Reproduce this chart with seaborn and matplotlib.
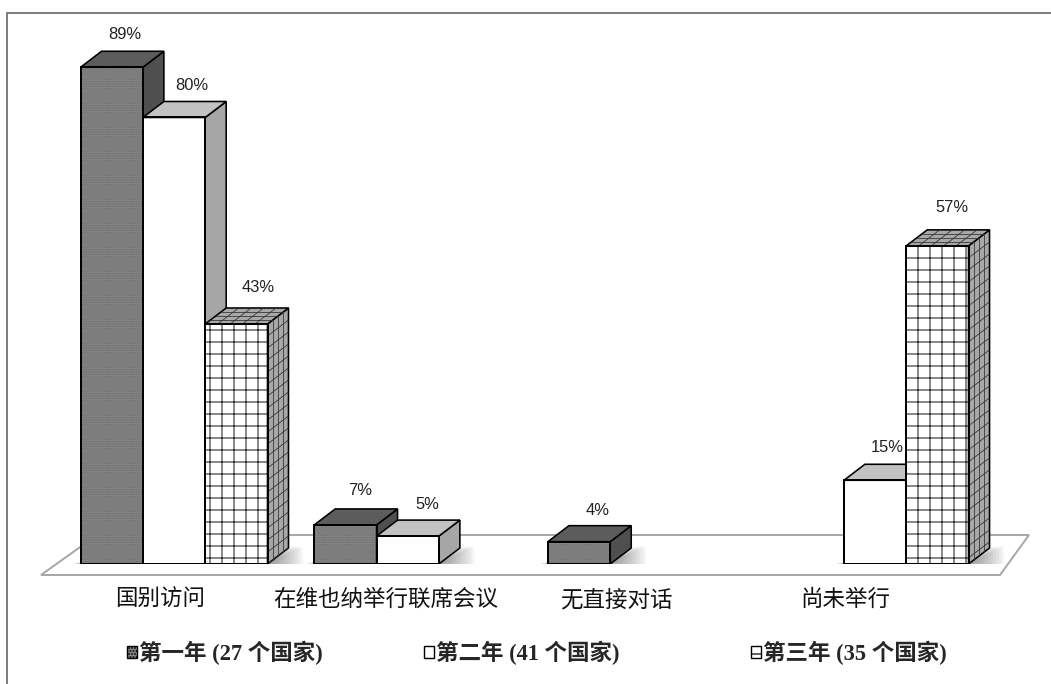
import matplotlib
matplotlib.use("Agg")
import matplotlib.pyplot as plt
import pandas as pd
import seaborn as sns
from matplotlib.lines import Line2D
from matplotlib.patches import Patch, Polygon, Rectangle
from matplotlib.transforms import ScaledTranslation

categories = ["国别访问", "在维也纳举行联席会议", "无直接对话", "尚未举行"]
series_names = ["第一年 (27 个国家)", "第二年 (41 个国家)", "第三年 (35 个国家)"]
year1 = [89, 7, 4, None]
year2 = [80, 5, None, 15]
year3 = [43, None, None, 57]

W, H = 1051, 684
AX_LEFT, AX_WIDTH = 57.2, 934.7
# bar styling: front, side, top, hatch colour, hatch
styles = [
    ("#858585", "#4f4f4f", "#5c5c5c", "#6e6e6e", "....."),
    ("#ffffff", "#a6a6a6", "#c2c2c2", "#ffffff", None),
    ("#ffffff", "#a8a8a8", "#a8a8a8", "#3a3a3a", "+"),
]
# px offset of each value label from the top centre of its bar
label_offsets = [
    [(13, 33), (15, 34), (19, 31)],
    [(18, 32), (20, 32), (12, 33)],
    [(22, 36), (15, 38)],
]
tick_shifts = [-14, -22, -25, -30]
DEPTH_X, DEPTH_Y = 21, 16

sns.set_theme(style="white")
plt.rcParams["hatch.linewidth"] = 1.2
CJK_SERIF = ["Liberation Serif", "Noto Sans CJK SC", "DejaVu Sans"]

df = pd.DataFrame({"category": categories * 3,
                   "year": [n for n in series_names for _ in categories],
                   "value": year1 + year2 + year3})

fig = plt.figure(figsize=(W / 72, H / 72), dpi=72, facecolor="white")
ax = fig.add_axes([AX_LEFT / W, (H - 564) / H, AX_WIDTH / W, 552 / H])
sns.barplot(data=df, x="category", y="value", hue="year", order=categories,
            hue_order=series_names, width=0.8, gap=0, dodge=True,
            palette=[s[0] for s in styles], saturation=1, legend=False, ax=ax)
ax.set_xlim(-0.5, 3.5)
ax.set_ylim(0, 98.9)
ax.patch.set_alpha(0)
sns.despine(ax=ax, left=True, bottom=True)
ax.set_xlabel("")
ax.set_ylabel("")
ax.set_yticks([])
ax.tick_params(axis="x", length=0, pad=26)
ax.set_xticks(range(len(categories)))
ax.set_xticklabels(categories, fontsize=22.5, color="#111111",
                   family=CJK_SERIF)
for lab, shift in zip(ax.get_xticklabels(), tick_shifts):
    lab.set_transform(lab.get_transform() + ScaledTranslation(shift / 72, 0, fig.dpi_scale_trans))

# data units per pixel, for the 3d faces
ux = 4 / AX_WIDTH
uy = 98.9 / 552
dx, dy = DEPTH_X * ux, DEPTH_Y * uy


def line(ax, p, q, color, lw, z):
    ax.add_line(Line2D([p[0], q[0]], [p[1], q[1]], color=color, lw=lw, zorder=z,
                       clip_on=False, solid_capstyle="round"))


for s, (container, style) in enumerate(zip(ax.containers, styles)):
    front, side, top, hatch_col, hatch = style
    z = 5 + s
    offs = iter(label_offsets[s])
    for bar in container:
        h = bar.get_height()
        if not h > 0:
            continue
        x0, w = bar.get_x(), bar.get_width()
        x1 = x0 + w
        bar.set_zorder(z)
        bar.set_edgecolor(hatch_col)
        bar.set_linewidth(0)
        if hatch:
            bar.set_hatch(hatch)

        # soft floor shadow, stacked thin layers
        for k in range(3, 39, 3):
            ax.add_patch(Polygon([(x0 - k * 0.25 * ux, 0), (x1 + k * ux, 0),
                                  (x1 + (k * 0.8 + 6) * ux, (3 + k * 0.4) * uy),
                                  (x1, (3 + k * 0.4) * uy)],
                                 closed=True, fc="#444444", ec="none", alpha=0.05,
                                 zorder=2, clip_on=False))

        side_pts = [(x1, 0), (x1 + dx, dy), (x1 + dx, h + dy), (x1, h)]
        top_pts = [(x0, h), (x0 + dx, h + dy), (x1 + dx, h + dy), (x1, h)]
        ax.add_patch(Polygon(side_pts, closed=True, fc=side, ec="black", lw=1.6, zorder=z))
        ax.add_patch(Polygon(top_pts, closed=True, fc=top, ec="black", lw=1.6, zorder=z))

        if hatch == "+":
            # skewed grid on the side and top faces
            for i in range(1, 4):
                t = i / 4
                line(ax, (x1 + t * dx, t * dy), (x1 + t * dx, h + t * dy), "#333333", 0.8, z)
                line(ax, (x0 + t * dx, h + t * dy), (x1 + t * dx, h + t * dy), "#333333", 0.8, z)
            n = int(h / uy / 12)
            for i in range(1, n + 1):
                yy = h - i * 12 * uy
                line(ax, (x1, yy), (x1 + dx, yy + dy), "#333333", 0.8, z)
            for i in range(1, 5):
                xx = x0 + i * w / 5
                line(ax, (xx, h), (xx + dx, h + dy), "#333333", 0.8, z)

        ax.add_patch(Rectangle((x0, 0), w, h, fill=False, ec="black", lw=2, zorder=z + 0.5))

        ox, oy = next(offs)
        ax.annotate(f"{h:.0f}%", (x0 + w / 2, h), xytext=(ox, oy), textcoords="offset points",
                    ha="center", va="center", fontsize=16.5, family="Liberation Sans",
                    color="#222222", zorder=20, annotation_clip=False)

# floor plate, in figure pixels
floor = Polygon([(41 / W, 1 - 575 / H), (1000 / W, 1 - 575 / H), (1029 / W, 1 - 535 / H), (97 / W, 1 - 535 / H)],
                closed=True, transform=fig.transFigure, fc="white", ec="#a8a8a8", lw=2, zorder=1, clip_on=False)
ax.add_patch(floor)

# outer frame of the picture
fig.add_artist(Line2D([7 / W, 7 / W], [0, 1 - 13 / H], color="#808080", lw=2))
fig.add_artist(Line2D([7 / W, 1], [1 - 13 / H, 1 - 13 / H], color="#808080", lw=2))

# three separate legend entries, spaced like the original
legend_x = [127, 424, 751]
legend_hatch = ["....", None, "-"]
for name, style, px, hh in zip(series_names, styles, legend_x, legend_hatch):
    handle = Patch(fc=style[0], ec="black", lw=1.4, hatch=hh)
    fig.legend(handles=[handle], labels=[name], loc="center left",
               bbox_to_anchor=(px / W, 1 - 653 / H), frameon=False,
               handlelength=0.45, handleheight=0.45, handletextpad=0.1,
               borderpad=0, borderaxespad=0,
               prop={"family": CJK_SERIF, "weight": "bold", "size": 22.5})

fig.savefig("out.png", dpi=72, facecolor="white")
